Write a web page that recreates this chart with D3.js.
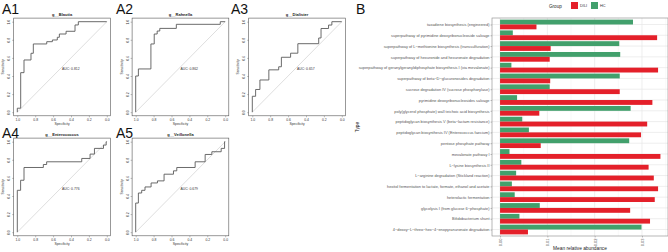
<!DOCTYPE html>
<html><head><meta charset="utf-8">
<script src="https://cdn.jsdelivr.net/npm/d3@7"></script>
<style>
body{margin:0;background:#fff}
svg{display:block;font-family:"Liberation Sans",Arial,sans-serif}
</style></head>
<body><svg id="c" width="668" height="252"></svg>
<script>
// ---------- ROC data ----------
const panelLabels = ["A1","A2","A3","A4","A5"];
const rocTitles = ["g__Blautia","g__Rahnella","g__Dialister","g__Enterococcus","g__Veillonella"];
const rocAuc = ["AUC: 0.812","AUC: 0.862","AUC: 0.657","AUC: 0.776","AUC: 0.679"];
const rocSpec1 = [1,0.962,0.925,0.847,0.821,0.671,0.608,0.553,0.530,0.455,0.355,0.318,0];
const rocSens1 = [0,0.044,0.437,0.577,0.651,0.754,0.779,0.798,0.828,0.864,0.894,0.964,1];
const rocSpec2 = [1,0.970,0.830,0.793,0.760,0.731,0.546,0.055,0];
const rocSens2 = [0,0.400,0.478,0.754,0.864,0.897,0.926,0.971,1];
const rocSpec3 = [1,0.963,0.915,0.815,0.705,0.675,0.572,0.491,0.258,0.232,0.148,0.111,0];
const rocSens3 = [0,0.176,0.251,0.356,0.468,0.502,0.607,0.652,0.757,0.820,0.925,0.963,1];
const rocSpec4 = [1,0.963,0.925,0.709,0.672,0.280,0.187,0.138,0.037,0.007,0];
const rocSens4 = [0,0.463,0.574,0.715,0.748,0.778,0.815,0.863,0.926,0.963,1];
const rocSpec5 = [1,0.970,0.933,0.896,0.828,0.757,0.683,0.578,0.541,0.336,0.224,0.149,0.045,0.007,0];
const rocSens5 = [0,0.322,0.433,0.463,0.500,0.544,0.567,0.641,0.678,0.715,0.778,0.859,0.889,0.926,1];
const rocTicks = [1.0,0.8,0.6,0.4,0.2,0.0];

// ---------- Bar chart data ----------
const pathways = [
 "taxadiene biosynthesis (engineered)",
 "superpathway of pyrimidine deoxyribonucleoside salvage",
 "superpathway of L\u2212methionine biosynthesis (transsulfuration)",
 "superpathway of hexuronide and hexuronate degradation",
 "superpathway of geranylgeranyldiphosphate biosynthesis I (via mevalonate)",
 "superpathway of beta\u2212D\u2212glucuronosides degradation",
 "sucrose degradation IV (sucrose phosphorylase)",
 "pyrimidine deoxyribonucleosides salvage",
 "poly(glycerol phosphate) wall teichoic acid biosynthesis",
 "peptidoglycan biosynthesis V (beta\u2212lactam resistance)",
 "peptidoglycan biosynthesis IV (Enterococcus faecium)",
 "pentose phosphate pathway",
 "mevalonate pathway I",
 "L\u2212lysine biosynthesis II",
 "L\u2212arginine degradation (Stickland reaction)",
 "hexitol fermentation to lactate, formate, ethanol and acetate",
 "heterolactic fermentation",
 "glycolysis I (from glucose 6\u2212phosphate)",
 "Bifidobacterium shunt",
 "4\u2212deoxy\u2212L\u2212threo\u2212hex\u22124\u2212enopyranuronate degradation"
];
const hcValues   = [0.0281,0.0027,0.0252,0.0254,0.0024,0.0253,0.0105,0.0036,0.0276,0.0047,0.0061,0.0273,0.0020,0.0045,0.0034,0.0025,0.0031,0.0084,0.0041,0.0299];
const diliValues = [0.0077,0.0332,0.0107,0.0105,0.0334,0.0106,0.0253,0.0322,0.0083,0.0311,0.0298,0.0086,0.0339,0.0314,0.0325,0.0334,0.0327,0.0275,0.0317,0.0059];
const groups = ["DILI","HC"];
const groupColors = ["#e4202a","#42a06c"];
const xTicks = [0,0.01,0.02,0.03];
const xMinor = [0.005,0.015,0.025,0.035];

const svg = d3.select("#c");
const rocSpecs = [rocSpec1,rocSpec2,rocSpec3,rocSpec4,rocSpec5];
const rocSenss = [rocSens1,rocSens2,rocSens3,rocSens4,rocSens5];

// ---------- ROC panels ----------
const colX = [17.3,135.7,252.3];
const labelX = [2,116,231];
rocTitles.forEach((title,i)=>{
  const c = i<3 ? i : i-3, r = i<3 ? 0 : 1;
  const x1 = colX[c], y0 = 112.2 + 120*r;
  const W = 89.5, H = 90.5, pad = 3.6;
  const x = d3.scaleLinear().domain([1,0]).range([x1, x1+W]);
  const y = d3.scaleLinear().domain([0,1]).range([y0, y0-H]);
  const g = svg.append("g");

  svg.append("text").attr("x",labelX[c]).attr("y",14+124*r).attr("font-size",14).attr("fill","#111").text(panelLabels[i]);

  g.append("rect").attr("x",x(1)-pad).attr("y",y(1)-pad).attr("width",W+2*pad).attr("height",H+2*pad)
    .attr("fill","none").attr("stroke","#555").attr("stroke-width",0.6);
  g.append("line").attr("x1",x(1)).attr("y1",y(0)).attr("x2",x(0)).attr("y2",y(1))
    .attr("stroke","#bdbdbd").attr("stroke-width",0.5);
  const pts = rocSpecs[i].map((s,k)=>[s, rocSenss[i][k]]);
  const line = d3.line().x(d=>x(d[0])).y(d=>y(d[1])).curve(d3.curveStepBefore);
  g.append("path").attr("d",line(pts)).attr("fill","none").attr("stroke","#5a5a5a").attr("stroke-width",0.9);

  const ax = g.append("g").attr("transform",`translate(0,${y(0)+pad})`)
    .call(d3.axisBottom(x).tickValues(rocTicks).tickFormat(d3.format(".1f")).tickSize(1.5).tickPadding(0.8));
  ax.select(".domain").remove();
  ax.selectAll("line").attr("stroke","#555").attr("stroke-width",0.4);
  ax.selectAll("text").attr("font-size",3.4).attr("fill","#333").attr("font-family","Liberation Sans, Arial, sans-serif");
  const ay = g.append("g").attr("transform",`translate(${x(1)-pad},0)`)
    .call(d3.axisLeft(y).tickValues(rocTicks).tickFormat(d3.format(".1f")).tickSize(1.5).tickPadding(0));
  ay.select(".domain").remove();
  ay.selectAll("line").attr("stroke","#555").attr("stroke-width",0.4);
  ay.selectAll("text").attr("font-size",3.4).attr("fill","#333").attr("font-family","Liberation Sans, Arial, sans-serif")
    .attr("text-anchor","middle").attr("x",null).attr("dy",null)
    .attr("transform","translate(-3.5,0) rotate(-90)");

  g.append("text").attr("x",x1+W/2).attr("y",y(1)-5.5).attr("text-anchor","middle")
    .attr("font-size",4).attr("font-weight","bold").attr("fill","#222").text(title);
  g.append("text").attr("x",x1+W/2).attr("y",y(0)+12.8).attr("text-anchor","middle")
    .attr("font-size",3.4).attr("fill","#333").text("Specificity");
  g.append("text").attr("transform",`translate(${x1-13},${(y(0)+y(1))/2}) rotate(-90)`).attr("text-anchor","middle")
    .attr("font-size",3.4).attr("fill","#333").text("Sensitivity");
  g.append("text").attr("x",x(0.5)).attr("y",y(0.5)+3).attr("font-size",3.4).attr("fill","#333").text(rocAuc[i]);
});

// ---------- Bar chart ----------
svg.append("text").attr("x",356).attr("y",14).attr("font-size",14).attr("fill","#111").text("B");
const pL = 492, pR = 668, pT = 18, pB = 236;
const xs = d3.scaleLinear().domain([-0.0017,0.0355]).range([pL,pR]);
const ys = d3.scalePoint().domain(pathways).range([pT,pB]).padding(0.6);
const step = ys.step(), half = step*0.9/2;

const pg = svg.append("g");
pg.append("rect").attr("x",pL).attr("y",pT).attr("width",pR-pL).attr("height",pB-pT).attr("fill","#fff");
pg.selectAll("line.minor").data(xMinor).join("line").attr("class","minor")
  .attr("x1",d=>xs(d)).attr("x2",d=>xs(d)).attr("y1",pT).attr("y2",pB)
  .attr("stroke","#f0f0f0").attr("stroke-width",0.4);
pg.selectAll("line.major").data(xTicks).join("line").attr("class","major")
  .attr("x1",d=>xs(d)).attr("x2",d=>xs(d)).attr("y1",pT).attr("y2",pB)
  .attr("stroke","#e6e6e6").attr("stroke-width",0.7);
pg.selectAll("line.hg").data(pathways).join("line").attr("class","hg")
  .attr("x1",pL).attr("x2",pR).attr("y1",d=>ys(d)).attr("y2",d=>ys(d))
  .attr("stroke","#e6e6e6").attr("stroke-width",0.7);

pg.selectAll("rect.hc").data(pathways).join("rect").attr("class","hc")
  .attr("x",xs(0)).attr("y",d=>ys(d)-half).attr("height",half)
  .attr("width",(d,k)=>xs(hcValues[k])-xs(0)).attr("fill",groupColors[1]);
pg.selectAll("rect.dili").data(pathways).join("rect").attr("class","dili")
  .attr("x",xs(0)).attr("y",d=>ys(d)).attr("height",half)
  .attr("width",(d,k)=>xs(diliValues[k])-xs(0)).attr("fill",groupColors[0]);

pg.append("rect").attr("x",pL).attr("y",pT).attr("width",pR-pL).attr("height",pB-pT)
  .attr("fill","none").attr("stroke","#888").attr("stroke-width",0.6);

const yAx = svg.append("g").attr("transform",`translate(${pL},0)`)
  .call(d3.axisLeft(ys).tickSize(1.5).tickPadding(1));
yAx.select(".domain").remove();
yAx.selectAll("line").attr("stroke","#666").attr("stroke-width",0.4);
yAx.selectAll("text").attr("font-size",3.9).attr("fill","#555").attr("font-family","Liberation Sans, Arial, sans-serif");

const xAx = svg.append("g").attr("transform",`translate(0,${pB})`)
  .call(d3.axisBottom(xs).tickValues(xTicks).tickFormat(d3.format(".2f")).tickSize(1.5));
xAx.select(".domain").remove();
xAx.selectAll("line").attr("stroke","#666").attr("stroke-width",0.4);
xAx.selectAll("text").attr("font-size",4).attr("fill","#555").attr("font-family","Liberation Sans, Arial, sans-serif")
  .attr("text-anchor","end").attr("dy","0.35em").attr("y",0)
  .attr("transform","translate(0,2.5) rotate(-90)");

svg.append("text").attr("x",(pL+pR)/2).attr("y",250).attr("text-anchor","middle")
  .attr("font-size",4.8).attr("fill","#222").text("Mean relative abundance");
svg.append("text").attr("transform",`translate(359,${(pT+pB)/2}) rotate(-90)`).attr("text-anchor","middle")
  .attr("font-size",4.8).attr("fill","#222").text("Type");

const lg = svg.append("g");
lg.append("text").attr("x",549).attr("y",7.7).attr("font-size",4.6).attr("fill","#222").text("Group");
const keyX = [571,591];
groups.forEach((gname,k)=>{
  lg.append("rect").attr("x",keyX[k]).attr("y",2).attr("width",7).attr("height",7).attr("fill",groupColors[k]);
  lg.append("text").attr("x",keyX[k]+9).attr("y",7.3).attr("font-size",3.9).attr("fill","#333").text(gname);
});
</script></body></html>
